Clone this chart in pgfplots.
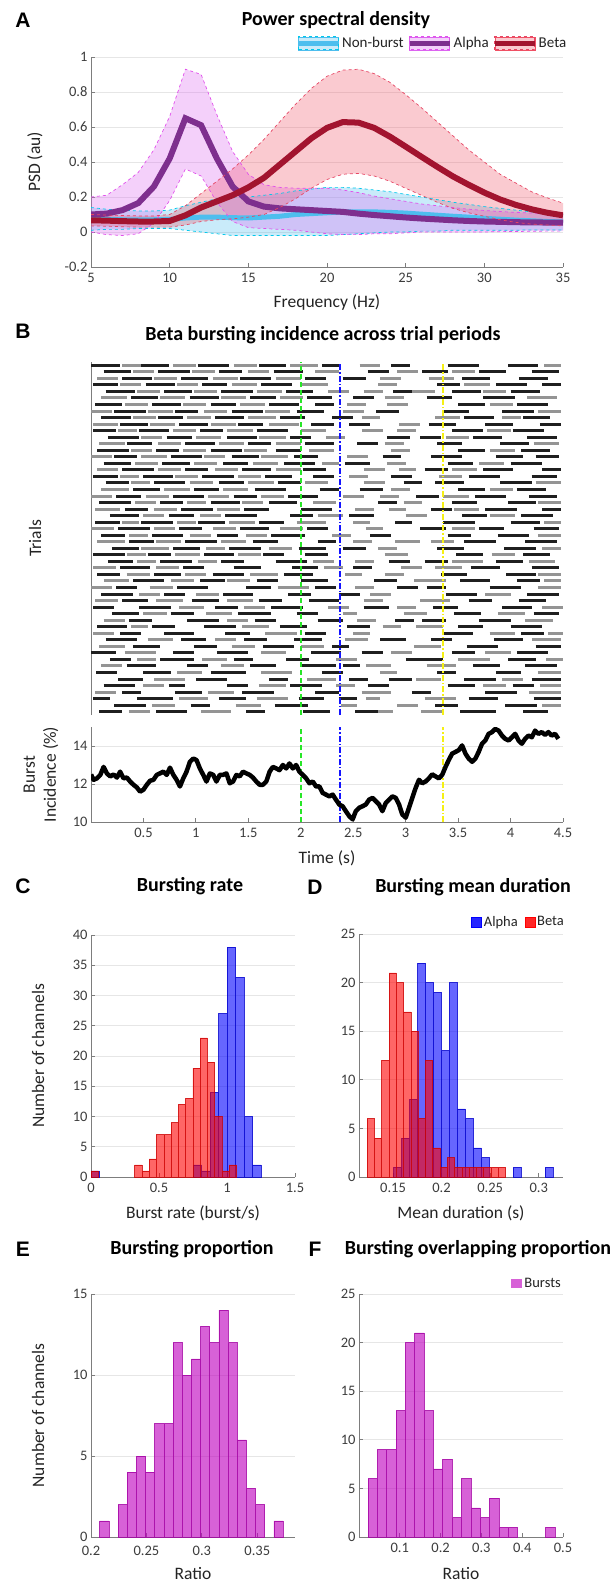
\documentclass[border=0pt]{standalone}
\usepackage{pgfplots}
\pgfplotsset{compat=1.18}
\usepackage{pgfplotstable}
\usepgfplotslibrary{fillbetween}
\usepackage{fontspec}
\setmainfont{Carlito}
\newfontfamily\panelfont{Liberation Sans}

\definecolor{axgray}{RGB}{125,125,125}
\definecolor{tickgray}{RGB}{60,60,60}
\definecolor{labgray}{RGB}{35,35,35}
\definecolor{gridgray}{RGB}{230,230,230}
\definecolor{nbline}{RGB}{77,190,238}
\definecolor{nbfill}{RGB}{77,190,238}
\definecolor{nbedge}{RGB}{0,200,235}
\definecolor{alline}{RGB}{126,47,142}
\definecolor{alfill}{RGB}{220,100,240}
\definecolor{aledge}{RGB}{225,80,235}
\definecolor{beline}{RGB}{162,20,47}
\definecolor{befill}{RGB}{240,80,100}
\definecolor{beedge}{RGB}{230,70,100}
\definecolor{hblue}{RGB}{0,0,255}
\definecolor{hred}{RGB}{255,0,0}
\definecolor{hmag}{RGB}{191,0,191}
\definecolor{vgreen}{RGB}{40,230,40}
\definecolor{vblue}{RGB}{20,20,255}
\definecolor{vyellow}{RGB}{245,240,20}

\pgfplotsset{
  panel/.style={scale only axis, anchor=south west,
    axis x line*=bottom, axis y line*=left,
    tick align=inside, major tick length=4pt,
    axis line style={draw=axgray, line width=0.8pt},
    tick style={draw=axgray, line width=0.8pt},
    tick label style={font=\fontsize{14.5}{17}\selectfont, text=tickgray},
    xticklabel style={yshift=-3pt},
    grid style={draw=gridgray, line width=0.7pt},
    /pgf/number format/assume math mode=true,
    every axis x label/.style={at={([yshift=-36pt]axis description cs:0.5,0)}, anchor=center,
      font=\fontsize{17.5}{21}\selectfont, text=labgray}},
  ylab/.style={every axis y label/.style={at={([xshift=-#1]axis description cs:0,0.5)}, rotate=90, anchor=center, align=center,
      font=\fontsize{17.5}{21}\selectfont, text=labgray}},
}

\pgfplotstableread{
f nb nbu nbl al alu all be beu bel
5 .075 .14 .01 .1 .2 .0 .067 .1 .035
6 .072 .13 .015 .105 .21 -.015 .065 .097 .033
7 .07 .125 .015 .125 .27 -.02 .062 .094 .03
8 .07 .12 .02 .165 .34 -.01 .06 .092 .028
9 .07 .12 .02 .26 .47 .05 .06 .092 .028
10 .072 .125 .02 .42 .66 .18 .063 .1 .028
11 .08 .15 .01 .65 .93 .36 .095 .15 .04
12 .085 .17 .0 .61 .9 .32 .14 .22 .06
13 .085 .19 -.01 .42 .67 .17 .175 .29 .07
14 .082 .2 -.02 .26 .46 .06 .21 .36 .075
15 .08 .2 -.02 .175 .33 .025 .255 .44 .085
16 .085 .21 -.02 .145 .27 .02 .31 .53 .1
17 .09 .22 -.02 .135 .255 .015 .385 .63 .14
18 .1 .235 -.02 .13 .25 .01 .46 .73 .19
19 .105 .245 -.02 .125 .25 .0 .535 .82 .25
20 .11 .255 -.02 .12 .25 -.01 .595 .89 .3
21 .115 .255 -.015 .115 .24 -.015 .628 .925 .33
22 .115 .25 -.01 .105 .225 -.015 .625 .93 .335
23 .115 .24 -.005 .097 .205 -.01 .595 .905 .32
24 .112 .23 0 .09 .19 -.01 .545 .855 .29
25 .108 .215 .0 .083 .175 -.005 .488 .785 .25
26 .102 .2 .005 .077 .16 0 .43 .71 .21
27 .096 .185 .005 .072 .15 0 .373 .63 .17
28 .09 .17 .01 .067 .14 .0 .318 .55 .135
29 .085 .158 .01 .063 .13 .0 .27 .47 .11
30 .078 .145 .01 .06 .123 .0 .225 .4 .09
31 .073 .135 .01 .058 .117 .002 .186 .33 .07
32 .068 .125 .01 .056 .112 .003 .155 .28 .055
33 .064 .115 .012 .055 .108 .004 .13 .23 .045
34 .06 .108 .012 .054 .105 .005 .11 .195 .04
35 .057 .1 .012 .053 .103 .005 .095 .165 .035
}\psd

\pgfplotstableread[row sep=\\]{
t b\\
0 12.5\\ 0.025 12.22\\ 0.057 12.3\\ 0.089 12.48\\ 0.120 12.9\\ 0.152 12.55\\ 0.184 12.4\\ 0.215 12.5\\
0.247 12.34\\ 0.278 12.65\\ 0.310 12.3\\ 0.342 12.34\\ 0.373 12.13\\ 0.405 11.96\\ 0.437 11.82\\ 0.468 11.6\\
0.500 11.7\\ 0.532 11.96\\ 0.563 12.17\\ 0.595 12.22\\ 0.627 12.48\\ 0.658 12.56\\ 0.690 12.65\\ 0.722 12.48\\
0.753 12.86\\ 0.785 12.48\\ 0.816 12.22\\ 0.848 11.87\\ 0.880 12.3\\ 0.911 12.65\\ 0.943 13.17\\ 0.975 13.34\\
1.006 13.26\\ 1.038 12.82\\ 1.070 12.48\\ 1.101 12.13\\ 1.133 12.56\\ 1.165 12.48\\ 1.196 12.13\\ 1.228 12.48\\
1.259 12.48\\ 1.291 12.56\\ 1.323 12.04\\ 1.354 12.13\\ 1.386 12.48\\ 1.418 12.4\\ 1.449 12.65\\ 1.481 12.56\\
1.513 12.48\\ 1.544 12.34\\ 1.576 12.13\\ 1.608 11.96\\ 1.639 11.96\\ 1.671 12.13\\ 1.703 12.65\\ 1.734 12.9\\
1.766 12.82\\ 1.797 12.73\\ 1.829 13.0\\ 1.861 12.82\\ 1.892 13.08\\ 1.924 12.82\\ 1.956 13.0\\ 1.987 12.65\\
2.019 12.48\\ 2.051 12.3\\ 2.082 12.04\\ 2.114 12.13\\ 2.146 11.87\\ 2.177 11.87\\ 2.209 11.53\\ 2.241 11.44\\
2.272 11.35\\ 2.304 11.44\\ 2.335 11.18\\ 2.367 10.92\\ 2.399 10.83\\ 2.430 10.57\\ 2.462 10.31\\ 2.494 10.14\\
2.525 10.57\\ 2.557 10.75\\ 2.589 10.83\\ 2.620 10.92\\ 2.652 11.18\\ 2.684 11.27\\ 2.715 11.1\\ 2.747 10.92\\
2.778 10.57\\ 2.810 11.0\\ 2.842 11.18\\ 2.873 11.35\\ 2.905 11.27\\ 2.937 10.92\\ 2.968 10.4\\ 3.000 10.23\\
3.032 10.75\\ 3.063 11.27\\ 3.095 11.79\\ 3.127 12.22\\ 3.158 12.04\\ 3.190 12.13\\ 3.222 12.3\\ 3.253 12.51\\
3.285 12.4\\ 3.316 12.3\\ 3.348 12.48\\ 3.380 12.9\\ 3.411 13.26\\ 3.443 13.6\\ 3.475 13.69\\ 3.506 13.78\\
3.538 14.03\\ 3.570 13.6\\ 3.601 13.34\\ 3.633 13.17\\ 3.665 13.34\\ 3.696 13.69\\ 3.728 14.12\\ 3.759 14.29\\
3.791 14.64\\ 3.823 14.73\\ 3.854 14.9\\ 3.886 14.81\\ 3.918 14.55\\ 3.949 14.38\\ 3.981 14.29\\ 4.013 14.46\\
4.044 14.64\\ 4.076 14.29\\ 4.108 14.12\\ 4.139 14.38\\ 4.171 14.55\\ 4.203 14.46\\ 4.234 14.81\\ 4.266 14.64\\
4.297 14.73\\ 4.329 14.59\\ 4.361 14.73\\ 4.392 14.55\\ 4.424 14.64\\ 4.456 14.38\\
}\incid

\pgfplotstableread[row sep=\\]{
s y l\\
0.08 1 .22\\ 0.62 1 .30\\ 1.48 1 .18\\ 2.02 1 .26\\ 2.52 1 .22\\ 3.52 1 .34\\ 4.12 1 .24\\
0.22 2 .30\\ 0.95 2 .18\\ 1.75 2 .32\\ 3.28 2 .22\\ 3.95 2 .30\\
0.02 3 .16\\ 0.44 3 .34\\ 1.22 3 .26\\ 1.98 3 .24\\ 2.36 3 .18\\ 3.60 3 .28\\ 4.22 3 .26\\
0.30 4 .18\\ 0.80 4 .26\\ 1.44 4 .30\\ 2.14 4 .22\\ 3.06 4 .18\\ 3.76 4 .30\\
0.12 5 .30\\ 0.74 5 .16\\ 1.30 5 .20\\ 1.90 5 .30\\ 2.64 5 .20\\ 3.40 5 .26\\ 4.02 5 .20\\
0.26 6 .24\\ 1.00 6 .30\\ 1.70 6 .18\\ 2.46 6 .18\\ 2.84 6 .22\\ 3.56 6 .30\\ 4.20 6 .28\\
0.05 7 .20\\ 0.50 7 .26\\ 1.14 7 .34\\ 2.20 7 .20\\ 3.30 7 .18\\ 3.86 7 .24\\
0.34 8 .28\\ 0.92 8 .20\\ 1.52 8 .24\\ 2.00 8 .34\\ 2.40 8 .16\\ 3.64 8 .26\\ 4.14 8 .30\\
0.18 9 .20\\ 0.66 9 .32\\ 1.36 9 .18\\ 1.86 9 .22\\ 3.00 9 .18\\ 3.12 9 .24\\ 3.98 9 .26\\
0.00 10 .24\\ 0.78 10 .20\\ 1.20 10 .30\\ 2.10 10 .28\\ 2.58 10 .20\\ 3.44 10 .22\\ 4.06 10 .30\\
0.40 11 .26\\ 0.98 11 .22\\ 1.64 11 .30\\ 2.30 11 .16\\ 3.58 11 .30\\ 4.24 11 .24\\
0.14 12 .30\\ 0.86 12 .24\\ 1.46 12 .22\\ 1.94 12 .26\\ 2.76 12 .24\\ 3.24 12 .20\\ 3.84 12 .28\\
0.28 13 .20\\ 0.70 13 .28\\ 1.28 13 .24\\ 2.04 13 .20\\ 3.36 13 .28\\ 4.10 13 .22\\
0.06 14 .28\\ 0.58 14 .22\\ 1.08 14 .30\\ 1.80 14 .26\\ 2.44 14 .22\\ 3.50 14 .24\\ 4.00 14 .30\\
0.36 15 .22\\ 0.92 15 .30\\ 1.56 15 .20\\ 2.16 15 .24\\ 2.90 15 .18\\ 3.16 15 .22\\ 3.70 15 .30\\
0.20 16 .26\\ 0.76 16 .22\\ 1.40 16 .32\\ 1.96 16 .20\\ 3.46 16 .26\\ 4.22 16 .24\\
0.02 17 .20\\ 0.46 17 .30\\ 1.18 17 .22\\ 1.72 17 .30\\ 2.60 17 .24\\ 3.26 17 .24\\ 3.92 17 .28\\
0.30 18 .24\\ 0.96 18 .26\\ 1.60 18 .22\\ 2.08 18 .28\\ 3.60 18 .22\\ 4.08 18 .26\\
0.10 19 .30\\ 0.70 19 .20\\ 1.26 19 .28\\ 1.88 19 .22\\ 2.36 19 .20\\ 3.38 19 .30\\ 4.16 19 .30\\
0.24 20 .20\\ 0.82 20 .30\\ 1.48 20 .24\\ 2.14 20 .20\\ 2.92 20 .20\\ 3.20 20 .18\\ 3.80 20 .30\\
0.40 21 .30\\ 1.04 21 .24\\ 1.58 21 .20\\ 2.00 21 .26\\ 2.70 21 .22\\ 3.52 21 .28\\ 4.06 21 .22\\
0.06 22 .22\\ 0.60 22 .26\\ 1.16 22 .30\\ 1.84 22 .28\\ 3.34 22 .24\\ 3.96 22 .28\\
0.28 23 .28\\ 0.88 23 .20\\ 1.36 23 .26\\ 1.92 23 .24\\ 2.50 23 .18\\ 3.62 23 .28\\ 4.20 23 .26\\
0.16 24 .24\\ 0.66 24 .30\\ 1.24 24 .22\\ 1.76 24 .30\\ 2.84 24 .20\\ 3.18 24 .22\\ 3.86 24 .26\\
0.02 25 .30\\ 0.54 25 .22\\ 1.08 25 .28\\ 1.64 25 .20\\ 2.04 25 .22\\ 3.48 25 .26\\ 4.12 25 .26\\
0.20 26 .26\\ 0.78 26 .26\\ 1.32 26 .30\\ 1.98 26 .26\\ 2.40 26 .22\\ 3.30 26 .26\\ 3.94 26 .30\\
0.36 27 .24\\ 0.90 27 .30\\ 1.54 27 .24\\ 2.16 27 .18\\ 3.56 27 .30\\ 4.14 27 .30\\
0.10 28 .22\\ 0.58 28 .30\\ 1.20 28 .20\\ 1.72 28 .32\\ 2.66 28 .20\\ 3.40 28 .22\\ 3.88 28 .30\\
0.26 29 .30\\ 0.84 29 .22\\ 1.42 29 .28\\ 2.06 29 .20\\ 3.14 29 .24\\ 3.70 29 .24\\ 4.22 29 .24\\
0.04 30 .24\\ 0.48 30 .30\\ 1.02 30 .26\\ 1.60 30 .24\\ 2.90 30 .16\\ 3.36 30 .30\\ 4.00 30 .28\\
0.18 31 .28\\ 0.74 31 .24\\ 1.28 31 .30\\ 1.90 31 .22\\ 2.46 31 .24\\ 3.54 31 .24\\ 4.10 31 .30\\
0.32 32 .22\\ 0.86 32 .30\\ 1.46 32 .24\\ 2.00 32 .30\\ 3.24 32 .20\\ 3.76 32 .30\\ 4.30 32 .18\\
0.08 33 .30\\ 0.66 33 .22\\ 1.14 33 .28\\ 1.70 33 .26\\ 2.74 33 .18\\ 3.44 33 .24\\ 3.98 33 .26\\
0.24 34 .24\\ 0.78 34 .30\\ 1.36 34 .22\\ 1.88 34 .28\\ 3.10 34 .22\\ 3.66 34 .30\\ 4.18 34 .26\\
0.40 35 .26\\ 0.98 35 .24\\ 1.56 35 .30\\ 2.18 35 .18\\ 2.56 35 .22\\ 3.50 35 .26\\ 4.06 35 .28\\
0.14 36 .22\\ 0.60 36 .30\\ 1.22 36 .24\\ 1.78 36 .22\\ 2.98 36 .18\\ 3.28 36 .28\\ 3.90 36 .30\\
0.02 37 .24\\ 0.50 37 .28\\ 1.06 37 .30\\ 1.66 37 .26\\ 2.12 37 .20\\ 2.86 37 .20\\ 3.60 37 .30\\ 4.20 37 .24\\
0.30 38 .30\\ 0.90 38 .22\\ 1.44 38 .28\\ 2.02 38 .22\\ 3.18 38 .22\\ 3.74 38 .28\\ 4.30 38 .18\\
0.12 39 .26\\ 0.68 39 .26\\ 1.26 39 .24\\ 1.84 39 .30\\ 2.42 39 .24\\ 3.40 39 .24\\ 4.00 39 .30\\
0.22 40 .22\\ 0.76 40 .30\\ 1.34 40 .26\\ 1.94 40 .22\\ 2.78 40 .18\\ 3.24 40 .30\\ 3.86 40 .26\\ 4.24 40 .22\\
0.06 41 .30\\ 0.62 41 .22\\ 1.14 41 .30\\ 1.76 41 .24\\ 3.50 41 .26\\ 4.10 41 .28\\
0.34 42 .24\\ 0.90 42 .28\\ 1.50 42 .22\\ 2.04 42 .28\\ 2.54 42 .20\\ 3.30 42 .24\\ 3.90 42 .28\\
0.16 43 .30\\ 0.72 43 .24\\ 1.30 43 .28\\ 1.90 43 .20\\ 2.82 43 .22\\ 3.14 43 .20\\ 3.64 43 .28\\ 4.16 43 .28\\
0.02 44 .22\\ 0.46 44 .28\\ 1.04 44 .22\\ 1.58 44 .30\\ 3.44 44 .30\\ 4.02 44 .30\\
0.28 45 .26\\ 0.84 45 .28\\ 1.40 45 .24\\ 2.10 45 .22\\ 2.46 45 .20\\ 3.22 45 .26\\ 3.76 45 .26\\ 4.28 45 .20\\
0.10 46 .28\\ 0.64 46 .24\\ 1.18 46 .28\\ 1.80 46 .24\\ 2.30 46 .20\\ 3.56 46 .28\\ 4.12 46 .26\\
0.22 47 .30\\ 0.80 47 .22\\ 1.34 47 .30\\ 1.96 47 .26\\ 2.72 47 .22\\ 3.36 47 .24\\ 3.92 47 .30\\
0.04 48 .26\\ 0.58 48 .28\\ 1.14 48 .24\\ 1.70 48 .28\\ 2.14 48 .18\\ 3.50 48 .26\\ 4.06 48 .30\\
0.38 49 .26\\ 0.94 49 .28\\ 1.52 49 .24\\ 2.06 49 .24\\ 2.50 49 .20\\ 3.20 49 .24\\ 3.74 49 .30\\
0.14 50 .28\\ 0.70 50 .26\\ 1.24 50 .30\\ 1.86 50 .26\\ 2.88 50 .18\\ 3.44 50 .28\\ 4.00 50 .28\\
0.02 51 .24\\ 0.52 51 .28\\ 1.06 51 .24\\ 1.62 51 .30\\ 3.30 51 .22\\ 3.86 51 .30\\ 4.30 51 .18\\
0.30 52 .28\\ 0.86 52 .26\\ 1.42 52 .30\\ 2.04 52 .20\\ 2.40 52 .22\\ 3.54 52 .26\\ 4.08 52 .28\\
0.12 53 .26\\ 0.64 53 .30\\ 1.22 53 .22\\ 1.74 53 .28\\ 2.64 53 .20\\ 3.16 53 .24\\ 3.70 53 .26\\ 4.20 53 .26\\
0.00 54 .28\\ 0.48 54 .26\\ 1.02 54 .30\\ 1.60 54 .26\\ 2.20 54 .18\\ 2.86 54 .18\\ 3.40 54 .30\\ 3.98 54 .28\\
}\rasterD

\pgfplotstableread[row sep=\\]{
s y l\\
0.36 1 .20\\ 1.05 1 .28\\ 2.70 1 .18\\ 3.15 1 .22\\
0.58 2 .22\\ 1.38 2 .24\\ 2.38 2 .16\\ 2.92 2 .20\\ 4.30 2 .18\\
0.84 3 .28\\ 1.58 3 .30\\ 2.62 3 .14\\ 3.18 3 .30\\
0.04 4 .20\\ 1.12 4 .24\\ 2.58 4 .28\\ 4.18 4 .30\\
0.50 5 .20\\ 1.60 5 .26\\ 2.34 5 .18\\ 3.74 5 .22\\ 4.28 5 .20\\
0.60 6 .30\\ 2.06 6 .28\\ 3.10 6 .24\\ 3.92 6 .20\\
0.82 7 .24\\ 1.62 7 .30\\ 2.76 7 .16\\ 4.26 7 .22\\
0.10 8 .20\\ 1.24 8 .22\\ 2.62 8 .24\\ 3.20 8 .28\\
0.44 9 .18\\ 1.06 9 .24\\ 2.34 9 .20\\ 3.50 9 .30\\ 4.34 9 .16\\
0.32 10 .30\\ 1.62 10 .24\\ 2.86 10 .20\\ 3.76 10 .24\\
0.08 11 .24\\ 1.34 11 .22\\ 2.00 11 .22\\ 3.08 11 .26\\
0.54 12 .24\\ 1.18 12 .20\\ 2.42 12 .22\\ 4.20 12 .28\\
0.02 13 .20\\ 1.66 13 .30\\ 2.50 13 .16\\ 3.80 13 .24\\ 4.36 13 .14\\
0.38 14 .16\\ 1.44 14 .26\\ 2.78 14 .18\\ 3.10 14 .26\\
0.12 15 .20\\ 1.30 15 .20\\ 2.54 15 .18\\ 4.14 15 .26\\
0.50 16 .22\\ 1.10 16 .24\\ 2.40 16 .14\\ 2.98 16 .22\\ 3.88 16 .26\\
0.84 17 .24\\ 1.46 17 .20\\ 2.26 17 .20\\ 2.92 17 .18\\ 4.30 17 .20\\
0.04 18 .22\\ 0.62 18 .26\\ 1.30 18 .24\\ 2.60 18 .18\\ 3.14 18 .28\\
0.46 19 .20\\ 1.00 19 .22\\ 2.66 19 .20\\ 3.76 19 .24\\
0.00 20 .20\\ 0.56 20 .22\\ 1.78 20 .30\\ 2.52 20 .18\\ 4.26 20 .22\\
0.12 21 .24\\ 0.76 21 .22\\ 1.30 21 .22\\ 3.08 21 .30\\ 4.32 21 .16\\
0.34 22 .22\\ 0.90 22 .20\\ 1.52 22 .26\\ 2.42 22 .16\\ 2.80 22 .18\\ 4.26 22 .22\\
0.02 23 .22\\ 0.62 23 .22\\ 2.22 23 .18\\ 2.96 23 .20\\ 3.28 23 .26\\
0.44 24 .18\\ 1.02 24 .18\\ 2.12 24 .20\\ 2.52 24 .18\\ 3.44 24 .30\\ 4.18 24 .24\\
0.34 25 .18\\ 0.80 25 .24\\ 1.40 25 .22\\ 2.80 25 .22\\ 3.82 25 .22\\
0.48 26 .26\\ 1.10 26 .18\\ 1.70 26 .22\\ 2.74 26 .18\\ 4.30 26 .18\\
0.06 27 .26\\ 0.62 27 .24\\ 1.24 27 .24\\ 2.50 27 .18\\ 2.90 27 .24\\ 3.24 27 .22\\
0.36 28 .18\\ 0.94 28 .20\\ 1.48 28 .20\\ 2.30 28 .18\\ 4.26 28 .22\\
0.00 29 .22\\ 0.60 29 .20\\ 1.16 29 .22\\ 1.80 29 .22\\ 2.62 29 .16\\ 3.44 29 .22\\
0.30 30 .16\\ 0.82 30 .18\\ 1.32 30 .24\\ 1.96 30 .28\\ 2.50 30 .16\\ 4.32 30 .16\\
0.50 31 .20\\ 1.04 31 .20\\ 2.16 31 .24\\ 3.00 31 .20\\ 3.80 31 .24\\
0.04 32 .24\\ 0.60 32 .22\\ 1.20 32 .22\\ 2.52 32 .18\\ 2.84 32 .16\\ 3.46 32 .24\\
0.42 33 .20\\ 0.92 33 .18\\ 1.44 33 .20\\ 2.12 33 .22\\ 2.98 33 .18\\ 4.26 33 .22\\
0.00 34 .20\\ 0.52 34 .22\\ 1.12 34 .20\\ 1.62 34 .22\\ 2.40 34 .20\\ 2.76 34 .18\\ 3.36 34 .24\\
0.10 35 .26\\ 0.70 35 .24\\ 1.26 35 .24\\ 2.86 35 .18\\ 3.80 35 .22\\
0.38 36 .18\\ 0.94 36 .22\\ 1.50 36 .24\\ 2.04 36 .22\\ 2.60 36 .20\\ 4.24 36 .24\\
0.28 37 .18\\ 0.80 37 .22\\ 1.40 37 .22\\ 2.46 37 .18\\ 3.32 37 .22\\
0.06 38 .20\\ 0.64 38 .22\\ 1.18 38 .22\\ 1.76 38 .24\\ 2.60 38 .20\\ 2.94 38 .16\\ 3.44 38 .24\\
0.42 39 .22\\ 0.98 39 .22\\ 1.54 39 .24\\ 2.20 39 .16\\ 2.82 39 .18\\ 3.70 39 .24\\
0.00 40 .20\\ 0.48 40 .24\\ 1.08 40 .20\\ 1.62 40 .26\\ 2.44 40 .20\\
0.38 41 .20\\ 0.88 41 .22\\ 1.46 41 .22\\ 2.08 41 .24\\ 2.86 41 .18\\ 3.80 41 .24\\
0.08 42 .24\\ 0.64 42 .22\\ 1.22 42 .24\\ 1.76 42 .24\\ 2.80 42 .18\\ 4.22 42 .24\\
0.48 43 .20\\ 1.00 43 .24\\ 1.60 43 .26\\ 2.24 43 .18\\ 3.38 43 .22\\
0.26 44 .18\\ 0.78 44 .22\\ 1.30 44 .24\\ 2.00 44 .24\\ 2.58 44 .20\\ 2.92 44 .18\\ 3.78 44 .22\\
0.02 45 .24\\ 0.56 45 .24\\ 1.14 45 .24\\ 1.70 45 .28\\ 2.94 45 .20\\
0.40 46 .22\\ 0.92 46 .22\\ 1.50 46 .26\\ 2.58 46 .18\\ 3.28 46 .24\\ 3.92 46 .18\\
0.00 47 .20\\ 0.54 47 .24\\ 1.08 47 .22\\ 1.66 47 .24\\ 2.40 47 .20\\ 4.26 47 .22\\
0.32 48 .22\\ 0.88 48 .22\\ 1.42 48 .24\\ 2.44 48 .18\\ 2.82 48 .20\\ 3.80 48 .22\\
0.10 49 .24\\ 0.66 49 .24\\ 1.24 49 .24\\ 1.80 49 .22\\ 2.80 49 .18\\ 4.16 49 .28\\
0.44 50 .22\\ 0.98 50 .22\\ 1.58 50 .24\\ 2.26 50 .20\\ 2.60 50 .18\\ 3.06 50 .22\\ 3.74 50 .22\\
0.28 51 .20\\ 0.82 51 .20\\ 1.34 51 .24\\ 2.00 51 .26\\ 2.74 51 .18\\ 3.56 51 .24\\
0.06 52 .20\\ 0.60 52 .22\\ 1.16 52 .24\\ 1.76 52 .24\\ 2.76 52 .20\\ 3.22 52 .24\\
0.40 53 .20\\ 0.96 53 .22\\ 1.50 53 .20\\ 2.14 53 .22\\ 2.92 53 .20\\ 3.44 53 .22\\
0.30 54 .18\\ 0.78 54 .22\\ 1.36 54 .22\\ 1.90 54 .26\\ 2.56 54 .20\\ 4.32 54 .16\\
}\rasterL

\pgfplotstableread{
x n
0.03125 1
0.78125 2
0.84375 1
0.90625 14
0.96875 27
1.03125 38
1.09375 33
1.15625 10
1.21875 2
}\cBlue
\pgfplotstableread{
x n
0.02675 1
0.34775 2
0.40125 1
0.45475 3
0.50825 7
0.56175 7
0.61525 9
0.66875 12
0.72225 13
0.77575 18
0.82925 23
0.88275 19
0.93625 10
0.98975 1
1.04325 2
}\cRed
\pgfplotstableread{
x n
0.1548 1
0.1630 4
0.1712 8
0.1794 22
0.1876 20
0.1958 19
0.2040 13
0.2122 20
0.2204 7
0.2286 6
0.2368 3
0.2450 2
0.2778 1
0.3106 1
}\dBlue
\pgfplotstableread{
x n
0.12715 6
0.13465 4
0.14215 12
0.14965 21
0.15715 20
0.16465 17
0.17215 15
0.17965 6
0.18715 12
0.19465 3
0.20215 1
0.20965 2
0.21715 1
0.22465 1
0.23215 1
0.23965 1
0.24715 1
0.25465 1
0.26215 1
}\dRed
\pgfplotstableread{
x n
0.2120 1
0.2286 2
0.2368 4
0.2451 5
0.2533 4
0.2616 7
0.2699 7
0.2781 12
0.2864 10
0.2946 11
0.3029 13
0.3112 12
0.3194 14
0.3277 12
0.3359 6
0.3442 3
0.3525 2
0.3690 1
}\eHist
\pgfplotstableread{
x n
0.0335 6
0.0564 9
0.0793 9
0.1022 13
0.1251 20
0.1480 21
0.1709 13
0.1938 7
0.2167 8
0.2396 2
0.2625 6
0.2854 3
0.3083 2
0.3312 4
0.3541 1
0.3770 1
0.4686 1
}\fHist

\begin{document}
\begin{tikzpicture}

% ---------- Panel A ----------
\begin{axis}[panel, at={(91pt,-267pt)}, width=472pt, height=210pt,
  xmin=5, xmax=35, ymin=-0.2, ymax=1,
  xtick={5,10,15,20,25,30,35}, ytick={-0.2,0,0.2,0.4,0.6,0.8,1},
  ymajorgrids, ylab=56pt,
  xlabel={Frequency (Hz)}, ylabel={PSD (au)},
  legend style={at={(axis description cs:1,1)}, anchor=south east, yshift=6pt, xshift=5pt,
    draw=none, fill=none, inner sep=0pt, legend columns=3,
    font=\fontsize{15}{17}\selectfont, text=labgray,
    nodes={inner sep=1.5pt},
    /tikz/every even column/.append style={column sep=2pt}},
  legend cell align=left]
\addplot[name path=nbU, nbedge, dashed, line width=0.7pt, forget plot] table[x=f,y=nbu]{\psd};
\addplot[name path=nbL, nbedge, dashed, line width=0.7pt, forget plot] table[x=f,y=nbl]{\psd};
\addplot[nbfill, fill opacity=0.3, forget plot] fill between[of=nbU and nbL];
\addplot[nbline, line width=5pt, forget plot] table[x=f,y=nb]{\psd};
\addplot[name path=alU, aledge, dashed, line width=0.7pt, forget plot] table[x=f,y=alu]{\psd};
\addplot[name path=alL, aledge, dashed, line width=0.7pt, forget plot] table[x=f,y=all]{\psd};
\addplot[alfill, fill opacity=0.3, forget plot] fill between[of=alU and alL];
\addplot[alline, line width=6pt, forget plot] table[x=f,y=al]{\psd};
\addplot[name path=beU, beedge, dashed, line width=0.7pt, forget plot] table[x=f,y=beu]{\psd};
\addplot[name path=beL, beedge, dashed, line width=0.7pt, forget plot] table[x=f,y=bel]{\psd};
\addplot[befill, fill opacity=0.3, forget plot] fill between[of=beU and beL];
\addplot[beline, line width=6pt, forget plot] table[x=f,y=be]{\psd};
\addlegendimage{legend image code/.code={
  \fill[nbfill, fill opacity=0.3] (0pt,-6.5pt) rectangle (40pt,6.5pt);
  \draw[nbedge, dashed, line width=0.7pt] (0pt,-6.5pt) rectangle (40pt,6.5pt);
  \draw[nbline, line width=5pt] (0pt,0pt) -- (40pt,0pt);}}
\addlegendentry{Non-burst}
\addlegendimage{legend image code/.code={
  \fill[alfill, fill opacity=0.3] (0pt,-6.5pt) rectangle (40pt,6.5pt);
  \draw[aledge, dashed, line width=0.7pt] (0pt,-6.5pt) rectangle (40pt,6.5pt);
  \draw[alline, line width=5pt] (0pt,0pt) -- (40pt,0pt);}}
\addlegendentry{Alpha}
\addlegendimage{legend image code/.code={
  \fill[befill, fill opacity=0.3] (0pt,-6.5pt) rectangle (40pt,6.5pt);
  \draw[beedge, dashed, line width=0.7pt] (0pt,-6.5pt) rectangle (40pt,6.5pt);
  \draw[beline, line width=5pt] (0pt,0pt) -- (40pt,0pt);}}
\addlegendentry{Beta}
\end{axis}

% ---------- Panel B raster ----------
\begin{axis}[panel, at={(91pt,-715pt)}, width=472pt, height=353pt,
  xmin=0, xmax=4.5, ymin=0.5, ymax=54.5,
  axis x line=none, ytick=\empty, xtick=\empty,
  ylab=56pt, ylabel={Trials}]
\addplot[quiver={u=\thisrow{l}, v=0}, -, line width=3pt, black!42] table[x=s,y=y]{\rasterL};
\addplot[quiver={u=\thisrow{l}, v=0}, -, line width=3pt, black!88] table[x=s,y=y]{\rasterD};
\addplot[vgreen, line width=2pt, dash pattern=on 5pt off 3pt] coordinates {(2,0.5) (2,54.5)};
\addplot[vblue, line width=2pt, dash pattern=on 6pt off 2pt on 1.5pt off 2pt] coordinates {(2.37,0.5) (2.37,54.5)};
\addplot[vyellow, line width=2pt, dash pattern=on 6pt off 2pt on 1.5pt off 2pt] coordinates {(3.36,0.5) (3.36,54.5)};
\end{axis}

% ---------- Panel B incidence ----------
\begin{axis}[panel, at={(91pt,-822pt)}, width=472pt, height=95pt,
  xmin=0, xmax=4.5, ymin=10, ymax=15,
  xtick={0.5,1,1.5,2,2.5,3,3.5,4,4.5}, ytick={10,12,14},
  ymajorgrids, ylab=50pt,
  xlabel={Time (s)}, ylabel={Burst\\Incidence (\%)}]
\addplot[vgreen, line width=2pt, dash pattern=on 5pt off 3pt] coordinates {(2,10) (2,15)};
\addplot[vblue, line width=2pt, dash pattern=on 6pt off 2pt on 1.5pt off 2pt] coordinates {(2.37,10) (2.37,15)};
\addplot[vyellow, line width=2pt, dash pattern=on 6pt off 2pt on 1.5pt off 2pt] coordinates {(3.36,10) (3.36,15)};
\addplot[black, line width=4.5pt, line join=round] table[x=t,y=b]{\incid};
\end{axis}

% ---------- Panel C ----------
\begin{axis}[panel, at={(91pt,-1177pt)}, width=204pt, height=242pt,
  xmin=0, xmax=1.5, ymin=0, ymax=40,
  xtick={0,0.5,1,1.5}, ytick={0,5,10,15,20,25,30,35,40},
  ymajorgrids, ylab=53pt,
  xlabel={Burst rate (burst/s)}, ylabel={Number of channels}]
\addplot[ybar, bar width=0.0625, bar shift=0pt, fill=hblue, fill opacity=0.6, draw=hblue!80!black, draw opacity=0.8, line width=0.5pt] table[x=x,y=n]{\cBlue};
\addplot[ybar, bar width=0.0535, bar shift=0pt, fill=hred, fill opacity=0.6, draw=hred!80!black, draw opacity=0.8, line width=0.5pt] table[x=x,y=n]{\cRed};
\end{axis}

% ---------- Panel D ----------
\begin{axis}[panel, at={(359pt,-1177pt)}, width=204pt, height=243pt,
  xmin=0.115, xmax=0.325, ymin=0, ymax=25,
  xtick={0.15,0.2,0.25,0.3}, ytick={0,5,10,15,20,25},
  ymajorgrids,
  xlabel={Mean duration (s)},
  legend style={at={(axis description cs:1,1)}, anchor=south east, yshift=4pt, xshift=3pt,
    draw=none, fill=none, inner sep=0pt, legend columns=2,
    font=\fontsize{14.5}{17}\selectfont, text=labgray,
    /tikz/every even column/.append style={column sep=5pt}},
  legend cell align=left]
\addplot[ybar, bar width=0.0082, bar shift=0pt, fill=hblue, fill opacity=0.6, draw=hblue!80!black, draw opacity=0.8, line width=0.5pt, forget plot] table[x=x,y=n]{\dBlue};
\addplot[ybar, bar width=0.0075, bar shift=0pt, fill=hred, fill opacity=0.6, draw=hred!80!black, draw opacity=0.8, line width=0.5pt, forget plot] table[x=x,y=n]{\dRed};
\addlegendimage{legend image code/.code={\fill[hblue, fill opacity=0.85] (0pt,-5pt) rectangle (10pt,5pt);}}
\addlegendentry{Alpha}
\addlegendimage{legend image code/.code={\fill[hred, fill opacity=0.85] (0pt,-5pt) rectangle (10pt,5pt);}}
\addlegendentry{Beta}
\end{axis}

% ---------- Panel E ----------
\begin{axis}[panel, at={(91pt,-1537pt)}, width=204pt, height=243pt,
  xmin=0.2, xmax=0.384, ymin=0, ymax=15,
  xtick={0.2,0.25,0.3,0.35}, ytick={0,5,10,15},
  xticklabel style={yshift=-2.5pt},
  ymajorgrids, ylab=53pt,
  xlabel={Ratio}, ylabel={Number of channels}]
\addplot[ybar, bar width=0.00826, bar shift=0pt, fill=hmag, fill opacity=0.62, draw=hmag!85!black, draw opacity=0.8, line width=0.5pt] table[x=x,y=n]{\eHist};
\end{axis}

% ---------- Panel F ----------
\begin{axis}[panel, at={(359pt,-1537pt)}, width=204pt, height=243pt,
  xmin=0, xmax=0.5, ymin=0, ymax=25,
  xtick={0.1,0.2,0.3,0.4,0.5}, ytick={0,5,10,15,20,25},
  ymajorgrids,
  xlabel={Ratio},
  legend style={at={(axis description cs:1,1)}, anchor=south east, yshift=3pt,
    draw=none, fill=none, inner sep=0pt,
    font=\fontsize{14.5}{17}\selectfont, text=labgray},
  legend cell align=left]
\addplot[ybar, bar width=0.0229, bar shift=0pt, fill=hmag, fill opacity=0.62, draw=hmag!85!black, draw opacity=0.8, line width=0.5pt, forget plot] table[x=x,y=n]{\fHist};
\addlegendimage{legend image code/.code={\fill[hmag, fill opacity=0.62, draw=none] (0pt,-4.5pt) rectangle (11pt,4.5pt);}}
\addlegendentry{Bursts}
\end{axis}

% ---------- titles and panel letters ----------
\begin{scope}[every node/.style={font=\bfseries\fontsize{20}{24}\selectfont, text=black}]
\node at (336pt,-20pt) {Power spectral density};
\node at (323pt,-335pt) {Beta bursting incidence across trial periods};
\node at (190pt,-886pt) {Bursting rate};
\node at (473pt,-887pt) {Bursting mean duration};
\node at (192pt,-1249pt) {Bursting proportion};
\node at (478pt,-1249pt) {Bursting overlapping proportion};
\end{scope}
\begin{scope}[every node/.style={font=\panelfont\bfseries\fontsize{21}{24}\selectfont, text=black}]
\node at (23pt,-20pt) {A};
\node at (23pt,-331pt) {B};
\node at (23pt,-886pt) {C};
\node at (315pt,-887pt) {D};
\node at (23pt,-1249pt) {E};
\node at (315pt,-1249pt) {F};
\end{scope}
\pgfresetboundingbox
\path[use as bounding box] (0pt,0pt) rectangle (612pt,-1581pt);
\end{tikzpicture}
\end{document}
